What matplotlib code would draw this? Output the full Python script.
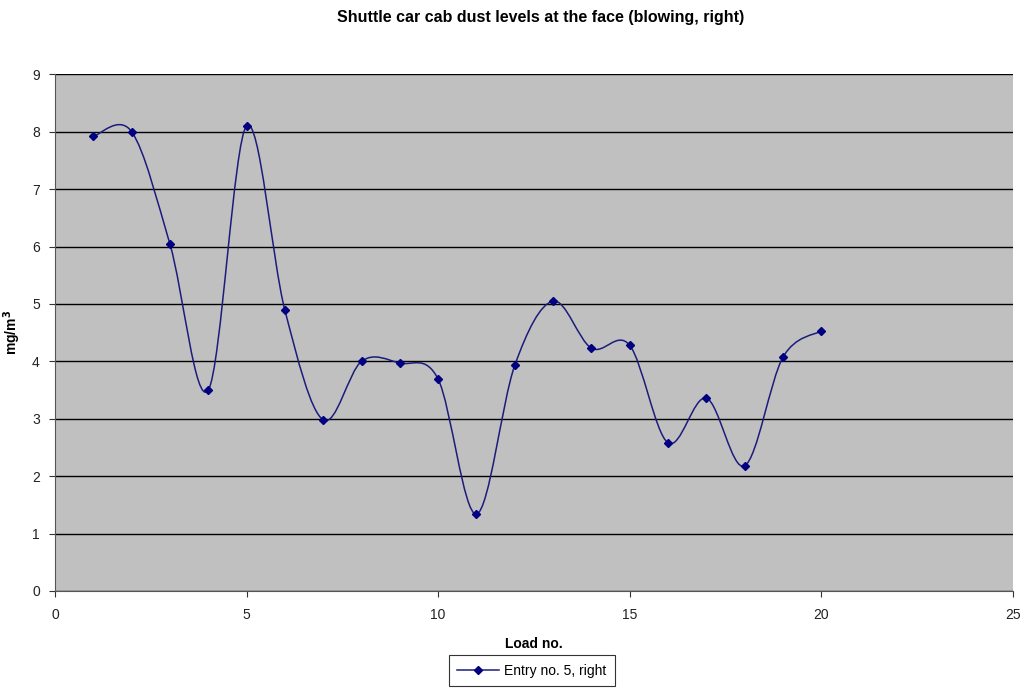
import numpy as np
import matplotlib.pyplot as plt
from matplotlib.path import Path
from matplotlib.patches import PathPatch
from matplotlib.lines import Line2D

plt.rcParams['font.family'] = ['Liberation Sans', 'DejaVu Sans']

load_no = [1, 2, 3, 4, 5, 6, 7, 8, 9, 10, 11, 12, 13, 14, 15, 16, 17, 18, 19, 20]
dust = [7.92, 8.00, 6.04, 3.50, 8.10, 4.89, 2.98, 4.00, 3.97, 3.69,
        1.34, 3.93, 5.05, 4.23, 4.28, 2.58, 3.36, 2.18, 4.07, 4.53]
series_name = 'Entry no. 5, right'
line_color = '#1c1c7c'
marker_color = '#000080'


def smooth_path(x, y):
    # Excel-like smoothed line: cubic Bezier segments (Catmull-Rom control points)
    p = np.column_stack([x, y]).astype(float)
    ext = np.vstack([p[0], p, p[-1]])
    verts = [p[0]]
    codes = [Path.MOVETO]
    for i in range(len(p) - 1):
        p0, p1, p2, p3 = ext[i], ext[i + 1], ext[i + 2], ext[i + 3]
        c1 = p1 + (p2 - p0) / 6.0
        c2 = p2 - (p3 - p1) / 6.0
        verts += [c1, c2, p2]
        codes += [Path.CURVE4] * 3
    return Path(verts, codes)


fig = plt.figure(figsize=(10.23, 6.88), dpi=100)
ax = fig.add_axes([0.0538, 0.141, 0.9362, 0.751])
ax.set_facecolor('#c0c0c0')

ax.add_patch(PathPatch(smooth_path(load_no, dust), facecolor='none',
                       edgecolor=line_color, lw=1.1, zorder=3))
ax.plot(load_no, dust, linestyle='none', marker='D', ms=4.5,
        color=marker_color, zorder=4)

ax.set_xlim(0, 25)
ax.set_ylim(0, 9)
ax.set_xticks(range(0, 26, 5))
ax.set_yticks(range(0, 10))
ax.grid(axis='y', color='black', lw=1)
ax.set_axisbelow(True)
ax.tick_params(direction='out', length=4, labelsize=10, colors='#333333',
               labelcolor='#222222')
ax.tick_params(axis='x', pad=8)
ax.tick_params(axis='y', pad=7)
for side in ['top', 'right']:
    ax.spines[side].set_visible(False)
for side in ['left', 'bottom']:
    ax.spines[side].set_color('#555555')

ax.set_xlabel('Load no.', fontsize=10, fontweight='bold')
ax.set_ylabel('mg/m$^\\mathbf{3}$', fontsize=10, fontweight='bold')
ax.xaxis.set_label_coords(0.5, -0.089)
ax.yaxis.set_label_coords(-0.033, 0.5)
fig.text(0.528, 0.975, 'Shuttle car cab dust levels at the face (blowing, right)',
         ha='center', va='center', fontsize=11.5, fontweight='bold')

handle = Line2D([], [], color=line_color, marker='D', ms=4.5,
                markerfacecolor=marker_color, markeredgecolor=marker_color, lw=1.1)
leg = fig.legend([handle], [series_name], loc='center', bbox_to_anchor=(0.52, 0.025),
                 frameon=True, fancybox=False, edgecolor='black', fontsize=10,
                 borderpad=0.6, handlelength=3, handletextpad=0.4)
leg.get_frame().set_linewidth(0.8)

fig.savefig('out.png', dpi=100)
